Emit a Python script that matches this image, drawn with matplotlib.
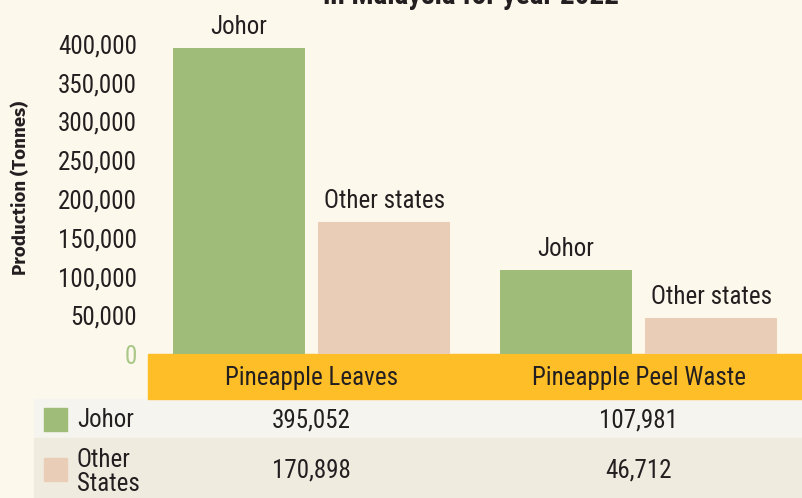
import matplotlib.pyplot as plt
import matplotlib.transforms as mtransforms
from matplotlib.patches import Rectangle

# data
categories = ['Pineapple Leaves', 'Pineapple Peel Waste']
johor = [395052, 107981]
other_states = [170898, 46712]
yticks = [0, 50000, 100000, 150000, 200000, 250000, 300000, 350000, 400000]

bg = '#fcf8ec'
green = '#9fbd78'
peach = '#eacdb6'
orange = '#fdbe27'
dark = '#231f20'

plt.rcParams['font.family'] = ['Roboto Condensed', 'DejaVu Sans']
fs = 18

W, H = 802, 498
fig = plt.figure(figsize=(W / 100, H / 100), dpi=100, facecolor=bg)

def fx(px):
    return px / W

def fy(py):
    return 1 - py / H

# bar axes: baseline at y=354px, top edge of figure
ax = fig.add_axes([fx(148), fy(354), fx(802 - 148), 354 / H])
ax.set_zorder(5)
ax.set_facecolor('none')
ax.set_xlim(-0.5, 1.5)
ax.set_ylim(0, 400000 * 354 / 310)

bw = 0.404
off = 0.222
xs = range(len(categories))
b1 = ax.bar([x - off for x in xs], johor, bw, color=green, zorder=2)
b2 = ax.bar([x + off for x in xs], other_states, bw, color=peach, zorder=2)

for bars, name in [(b1, 'Johor'), (b2, 'Other states')]:
    for b in bars:
        ax.annotate(name, (b.get_x() + b.get_width() / 2, b.get_height()),
                    xytext=(0, 10), textcoords='offset points',
                    ha='center', va='baseline', fontsize=fs, color=dark)

ax.set_yticks(yticks)
ax.set_yticklabels([f'{v:,}' for v in yticks], fontsize=fs, color=dark)
ax.get_yticklabels()[0].set_color('#a9c787')
ax.tick_params(axis='y', length=0, pad=8)
ax.set_xticks([])
for s in ax.spines.values():
    s.set_visible(False)

fig.text(fx(21), fy(188), 'Production (Tonnes)', rotation=90, ha='center', va='center',
         fontsize=13.5, fontweight='bold', color=dark, family=['Fira Sans', 'DejaVu Sans'])

# cut-off title at the top
fig.text(fx(471), fy(4), 'in Malaysia for year 2022', ha='center', va='baseline',
         fontsize=21, fontweight='bold', color=dark)

# category band and table rows
fig.patches.append(Rectangle((fx(148), fy(399)), fx(802 - 148), 45 / H,
                             transform=fig.transFigure, color=orange, zorder=1))
fig.patches.append(Rectangle((fx(34), fy(438)), fx(802 - 34), 39 / H,
                             transform=fig.transFigure, color='#f6f4ee', zorder=0))
fig.patches.append(Rectangle((fx(34), 0), fx(802 - 34), 60 / H,
                             transform=fig.transFigure, color='#f0ebdf', zorder=0))

trans = mtransforms.blended_transform_factory(ax.transData, fig.transFigure)
for i, c in enumerate(categories):
    ax.text(i, fy(378), c, transform=trans, ha='center', va='center',
            fontsize=fs, color=dark, clip_on=False)
    ax.text(i, fy(420), f'{johor[i]:,}', transform=trans, ha='center', va='center',
            fontsize=fs, color=dark, clip_on=False)
    ax.text(i, fy(470), f'{other_states[i]:,}', transform=trans, ha='center', va='center',
            fontsize=fs, color=dark, clip_on=False)

# legend inside table
fig.patches.append(Rectangle((fx(44), fy(431)), fx(23), 23 / H,
                             transform=fig.transFigure, color=green, zorder=2))
fig.patches.append(Rectangle((fx(44), fy(481)), fx(23), 23 / H,
                             transform=fig.transFigure, color=peach, zorder=2))
fig.text(fx(77), fy(420), 'Johor', ha='left', va='center', fontsize=fs, color=dark)
fig.text(fx(77), fy(472), 'Other\nStates', ha='left', va='center', fontsize=fs,
         color=dark, linespacing=0.95)

fig.savefig('out.png', dpi=100, facecolor=bg)
